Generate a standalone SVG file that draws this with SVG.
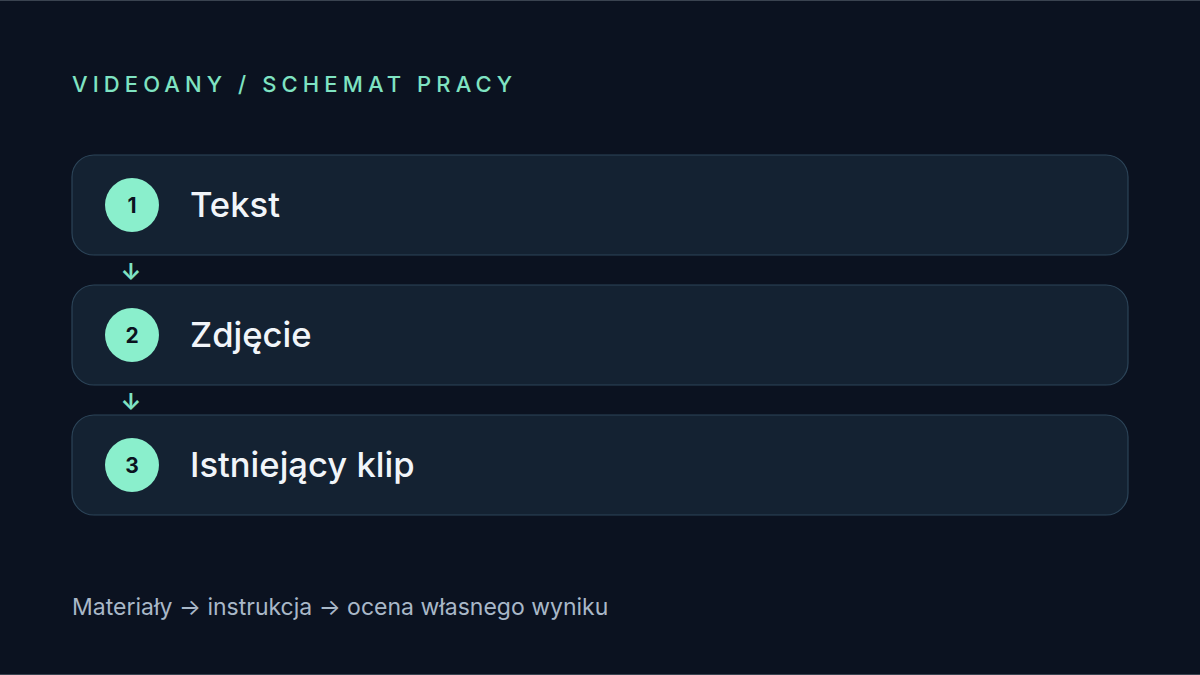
<svg xmlns="http://www.w3.org/2000/svg" width="1200" height="675" viewBox="0 0 1200 675">
<style>
.bg{fill:#0b1220}
.card{fill:#142232;stroke:#2c4458;stroke-width:1.2}
.badge{fill:#8aefcc}
.num{font-family:Inter,"Noto Sans",sans-serif;font-size:21px;font-weight:700;fill:#0b1220;text-anchor:middle}
.label{font-family:Inter,"Noto Sans",sans-serif;font-size:34.6px;font-weight:500;fill:#f1f5f9}
.title{font-family:Inter,"Noto Sans",sans-serif;font-size:22px;font-weight:500;fill:#7fe3c2;letter-spacing:5.1px}
.foot{font-family:Inter,"Noto Sans",sans-serif;font-size:23px;fill:#a9b8c8}
.arrow{font-family:Inter,"DejaVu Sans",sans-serif;font-size:23px;font-weight:700;fill:#7fe3c2;text-anchor:middle}
</style>
<rect class="bg" x="0" y="0" width="1200" height="675"/>
<line x1="0" y1="0.5" x2="1200" y2="0.5" stroke="#3a4350" stroke-width="1"/>
<line x1="0" y1="674.5" x2="1200" y2="674.5" stroke="#3a4350" stroke-width="1"/>
<text class="title" x="72" y="92">VIDEOANY / SCHEMAT PRACY</text>
<g id="node1">
<rect class="card" x="72" y="155" width="1056" height="100" rx="22"/>
<circle class="badge" cx="132" cy="205" r="27"/>
<text class="num" x="132" y="212.5">1</text>
<text class="label" x="190" y="217">Tekst</text>
</g>
<g id="node2">
<rect class="card" x="72" y="285" width="1056" height="100" rx="22"/>
<circle class="badge" cx="132" cy="335" r="27"/>
<text class="num" x="132" y="342.5">2</text>
<text class="label" x="190" y="347">Zdjęcie</text>
</g>
<g id="node3">
<rect class="card" x="72" y="415" width="1056" height="100" rx="22"/>
<circle class="badge" cx="132" cy="465" r="27"/>
<text class="num" x="132" y="472.5">3</text>
<text class="label" x="190" y="477">Istniejący klip</text>
</g>
<g id="connectors">
<text class="arrow" x="131" y="280">↓</text>
<text class="arrow" x="131" y="410">↓</text>
</g>
<text class="foot" x="72" y="615">Materiały → instrukcja → ocena własnego wyniku</text>
</svg>
